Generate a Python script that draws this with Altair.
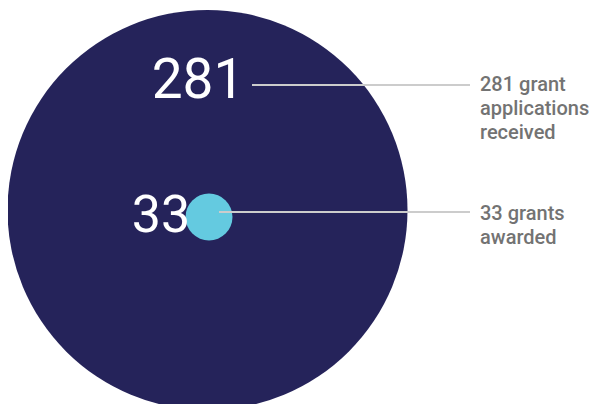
import altair as alt
import pandas as pd

# Data
values = [281, 33]
numbers = ["281", "33"]
captions = [
    "281 grant\napplications\nreceived",
    "33 grants\nawarded",
]
colors = ["#25235a", "#64cae0"]

size_scale = alt.Scale(type="pow", exponent=2, domain=[0, max(values)], range=[0, 160000])

def row(i):
    return pd.DataFrame({"value": [values[i]], "num": [numbers[i]], "caption": [captions[i]]})

big = alt.Chart(row(0)).mark_circle(opacity=1, color=colors[0]).encode(
    x=alt.value(199.5), y=alt.value(202),
    size=alt.Size("value:Q", scale=size_scale, legend=None),
)
small = alt.Chart(row(1)).mark_circle(opacity=1, color=colors[1]).encode(
    x=alt.value(201), y=alt.value(209),
    size=alt.Size("value:Q", scale=size_scale, legend=None),
)

num1 = alt.Chart(row(0)).mark_text(
    font="Roboto", fontSize=55, color="white", align="center", baseline="alphabetic"
).encode(x=alt.value(190), y=alt.value(90), text="num:N")
num2 = alt.Chart(row(1)).mark_text(
    font="Roboto", fontSize=52, color="white", align="center", baseline="alphabetic"
).encode(x=alt.value(153), y=alt.value(224), text="num:N")

rule1 = alt.Chart(row(0)).mark_rule(color="#cccccc", strokeWidth=2).encode(
    x=alt.value(244), x2=alt.value(462), y=alt.value(77)
)
rule2 = alt.Chart(row(1)).mark_rule(color="#cccccc", strokeWidth=2).encode(
    x=alt.value(211), x2=alt.value(462), y=alt.value(204)
)

cap_style = dict(
    font="Roboto", fontSize=20, fontWeight=500, color="#737373", align="left",
    baseline="alphabetic", lineBreak="\n", lineHeight=24
)
cap1 = alt.Chart(row(0)).mark_text(**cap_style).encode(
    x=alt.value(472), y=alt.value(83), text="caption:N"
)
cap2 = alt.Chart(row(1)).mark_text(**cap_style).encode(
    x=alt.value(472), y=alt.value(212), text="caption:N"
)

chart = alt.layer(big, small, num1, num2, rule1, rule2, cap1, cap2).properties(
    width=584, height=396, autosize="none", padding=0, background="white"
).configure_view(stroke=None)

chart.save("out.html", embed_options={"renderer": "svg", "actions": False})
